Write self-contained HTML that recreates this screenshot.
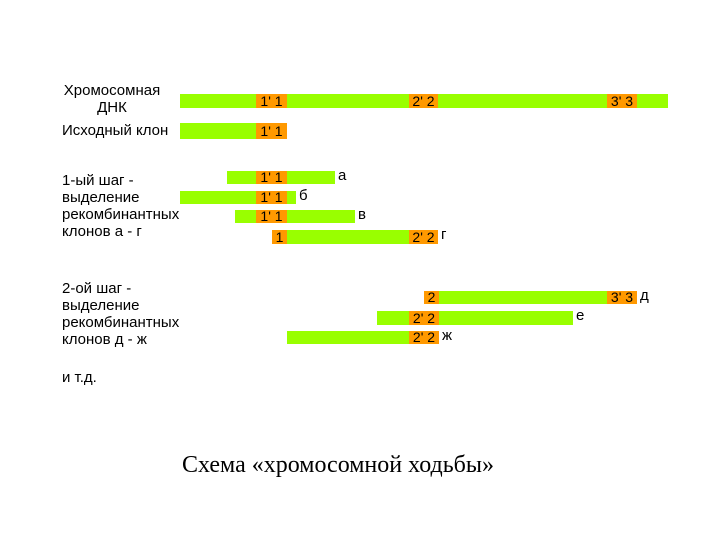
<!DOCTYPE html>
<html><head><meta charset="utf-8"><style>
body{margin:0;background:#fff;width:720px;height:540px;position:relative;overflow:hidden;font-family:"Liberation Sans",sans-serif}
.t{position:absolute;font-size:15px;line-height:17px;color:#000}
.g{position:absolute;background:#99ff00}
.o{position:absolute;background:#ff9900;font-size:14px;color:#000;text-align:center;white-space:pre}
.l{position:absolute;font-size:15px;line-height:15px}
</style></head><body>
<div class="t" style="left:62px;top:82px;text-align:center;width:100px">Хромосомная<br>ДНК</div>
<div class="t" style="left:62px;top:122px">Исходный клон</div>
<div class="t" style="left:62px;top:172px">1-ый шаг -<br>выделение<br>рекомбинантных<br>клонов а - г</div>
<div class="t" style="left:62px;top:280px">2-ой шаг -<br>выделение<br>рекомбинантных<br>клонов д - ж</div>
<div class="t" style="left:62px;top:369px">и т.д.</div>
<div id="bars"></div>
<div style="position:absolute;left:0;width:676px;top:452px;text-align:center;font-family:'Liberation Serif',serif;font-size:24px">Схема «хромосомной ходьбы»</div>
<script>
const rows=[[94,14,180,668,[[256,287,"1' 1"],[409,438,"2' 2"],[607,637,"3' 3"]],""],
[123,16,180,287,[[256,287,"1' 1"]],""],
[171,13,227,335,[[256,287,"1' 1"]],"а"],
[191,13,180,296,[[256,287,"1' 1"]],"б"],
[210,13,235,355,[[256,287,"1' 1"]],"в"],
[230,14,272,438,[[272,287,"1"],[409,438,"2' 2"]],"г"],
[291,13,424,637,[[424,439,"2"],[607,637,"3' 3"]],"д"],
[311,14,377,573,[[409,439,"2' 2"]],"е"],
[331,13,287,439,[[409,439,"2' 2"]],"ж"]];
const c=document.getElementById('bars');
rows.forEach((r,i)=>{
const g=document.createElement('div');g.className='g';


g.style.cssText=`left:${r[2]}px;top:${r[0]}px;width:${r[3]-r[2]}px;height:${r[1]}px`;c.appendChild(g);
r[4].forEach(s=>{const o=document.createElement('div');o.className='o';


o.style.cssText=`left:${s[0]}px;top:${r[0]}px;width:${s[1]-s[0]}px;height:${r[1]}px;line-height:${r[1]}px`;o.textContent=s[2];c.appendChild(o);});
if(r[5]){const l=document.createElement('div');l.className='l';


l.style.cssText=`left:${r[3]+3}px;top:${r[0]-3}px`;l.textContent=r[5];c.appendChild(l);}
});
</script>
</body></html>
